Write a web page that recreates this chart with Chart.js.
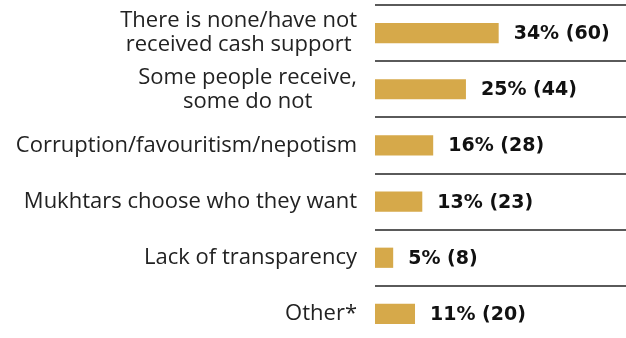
<!DOCTYPE html>
<html>
<head>
<meta charset="utf-8">
<script src="https://cdn.jsdelivr.net/npm/chart.js@4"></script>
<style>
  html, body { margin: 0; padding: 0; background: #fff; overflow: hidden; }
  #wrap { width: 626px; height: 338px; overflow: hidden; }
</style>
</head>
<body>
<div id="wrap"><canvas id="chart" width="626" height="342"></canvas></div>
<script>
// reasons given, share of respondents and counts
const categories = [
  ['There is none/have not', 'received cash support'],
  ['Some people receive,', 'some do not'],
  ['Corruption/favouritism/nepotism'],
  ['Mukhtars choose who they want'],
  ['Lack of transparency'],
  ['Other*']
];
const percents = [34, 25, 16, 13, 5, 11];
const counts = [60, 44, 28, 23, 8, 20];

// category labels, each block centred on itself and right-aligned to the axis
const sideLabels = {
  id: 'sideLabels',
  afterDraw(chart) {
    const ctx = chart.ctx;
    const y = chart.scales.y;
    const right = chart.chartArea.left - 18;
    ctx.save();
    ctx.font = '22px "Open Sans", sans-serif';
    ctx.fillStyle = '#222';
    ctx.textAlign = 'center';
    ctx.textBaseline = 'middle';
    categories.forEach((lines, i) => {
      const w = Math.max(...lines.map(l => ctx.measureText(l).width));
      const cx = right - w / 2;
      const cy = y.getPixelForValue(i);
      const lh = 24;
      lines.forEach((l, j) => {
        ctx.fillText(l, cx, cy + (j - (lines.length - 1) / 2) * lh);
      });
    });
    ctx.restore();
  }
};

// "34% (60)" after each bar
const valueLabels = {
  id: 'valueLabels',
  afterDatasetsDraw(chart) {
    const ctx = chart.ctx;
    const meta = chart.getDatasetMeta(0);
    ctx.save();
    ctx.font = 'bold 19px "DejaVu Sans", sans-serif';
    ctx.fillStyle = '#111';
    ctx.textAlign = 'left';
    ctx.textBaseline = 'middle';
    meta.data.forEach((bar, i) => {
      ctx.fillText(percents[i] + '% (' + counts[i] + ')', bar.x + 15, bar.y + 1);
    });
    ctx.restore();
  }
};

new Chart(document.getElementById('chart'), {
  type: 'bar',
  data: {
    labels: categories,
    datasets: [{
      data: percents,
      backgroundColor: '#d6a94a',
      barPercentage: 0.36,
      categoryPercentage: 1
    }]
  },
  options: {
    indexAxis: 'y',
    responsive: false,
    animation: false,
    layout: { padding: { left: 375, top: 5, right: 0, bottom: 0 } },
    plugins: { legend: { display: false }, tooltip: { enabled: false } },
    scales: {
      x: {
        min: 0, max: 69,
        display: false,
        grid: { display: false }
      },
      y: {
        ticks: { display: false },
        border: { display: false },
        grid: { offset: true, color: '#5a5a5a', lineWidth: 2, drawTicks: false }
      }
    }
  },
  plugins: [sideLabels, valueLabels]
});
</script>
</body>
</html>
